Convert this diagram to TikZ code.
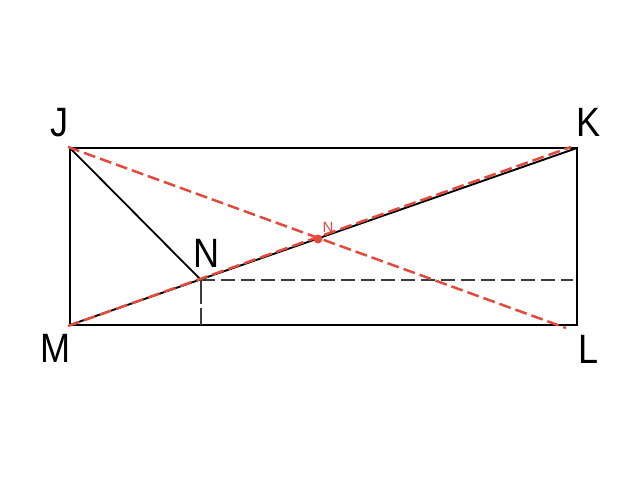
\documentclass[tikz,border=0pt]{standalone}
\usepackage{fontspec}
\setmainfont{Liberation Sans}
\definecolor{myred}{RGB}{226,74,60}
\definecolor{mygray}{RGB}{60,60,60}
\newcommand{\narrowlbl}[1]{\scalebox{0.88}[1]{#1}}
\begin{document}
\begin{tikzpicture}[x=1pt,y=-1pt,
  edge/.style={line width=2.4pt,black},
  reddash/.style={line width=2.5pt,myred,dash pattern=on 12pt off 5pt},
  graydash/.style={line width=2pt,mygray,dash pattern=on 14pt off 6pt},
  biglabel/.style={font=\fontsize{41}{41}\selectfont,inner sep=0pt}]
\useasboundingbox (0,0) rectangle (640,480);
\coordinate (J) at (70,148);
\coordinate (K) at (577,148);
\coordinate (L) at (577,325);
\coordinate (M) at (70,325);
\coordinate (N) at (201,280);
\coordinate (Nr) at (573,280);
\coordinate (Nb) at (201,325);
\coordinate (Rend) at (566,328);
\coordinate (Rk) at (571,147);
\coordinate (Rm) at (68,326);
\coordinate (Rj) at (68,147);
\draw[edge,line join=miter] (J) -- (K) -- (L) -- (M) -- cycle;
\draw[edge,line width=1.9pt] (M) -- (K);
\draw[edge,line width=1.8pt] (J) -- (N);
\draw[graydash] (N) -- (Nr);
\draw[graydash,line width=1.6pt,dash pattern=on 24pt off 4pt] (N) -- (Nb);
\draw[reddash] (Rj) -- (Rend);
\draw[reddash] (Rm) -- (Rk);
\fill[myred] (318,239) circle (4.5pt) coordinate (P);
\node[biglabel] (lJ) at (59.5,123) {\narrowlbl{J}};
\node[biglabel] (lK) at (589,122.5) {\narrowlbl{K}};
\node[biglabel] (lM) at (55.5,348.5) {\narrowlbl{M}};
\node[biglabel] (lL) at (589,349) {\narrowlbl{L}};
\node[biglabel] (lN) at (206.5,253.5) {\narrowlbl{N}};
\node[font=\fontsize{15}{15}\selectfont,text=myred,inner sep=0pt] (lP) at (328,227) {N};
\end{tikzpicture}
\end{document}
